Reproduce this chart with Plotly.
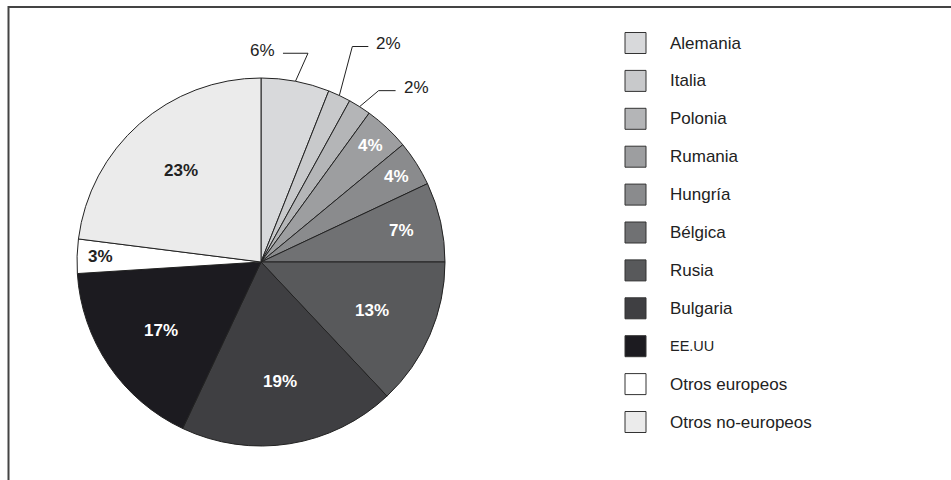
import math
import plotly.graph_objects as go

# Distribution by country of origin (percent)
paises = ["Alemania", "Italia", "Polonia", "Rumania", "Hungría", "Bélgica",
          "Rusia", "Bulgaria", "EE.UU", "Otros europeos", "Otros no-europeos"]
porcentajes = [6, 2, 2, 4, 4, 7, 13, 19, 17, 3, 23]

colores = ["#d8d9db", "#c8c9cb", "#b4b5b7", "#9d9ea0", "#8a8b8d", "#707173",
           "#58595b", "#3f3f42", "#1c1b20", "#ffffff", "#ebebeb"]

W, H = 951, 480
CX, CY, R = 261, 262, 184          # pie centre and radius in pixels
FONT = "Liberation Sans, Arial, sans-serif"


def px(x):
    return x / W


def py(y):
    return 1 - y / H


fig = go.Figure()
fig.add_trace(go.Pie(
    labels=paises,
    values=porcentajes,
    sort=False,
    direction="clockwise",
    rotation=0,
    marker=dict(colors=colores, line=dict(color="#222222", width=1)),
    textinfo="none",
    hoverinfo="label+percent",
    showlegend=False,
    domain=dict(x=[px(CX - R), px(CX + R)], y=[py(CY + R), py(CY - R)]),
))

total = sum(porcentajes)
annotations = []
shapes = []

# slices too thin for an inside label get a leader line: (dx, dy) to the elbow, horizontal run
leader = {"Alemania": (12.5, -28, -25), "Italia": (13, -49, 16), "Polonia": (19, -16, 17)}

acum = 0
for nombre, v, c in zip(paises, porcentajes, colores):
    mid = (acum + v / 2) / total * 2 * math.pi
    acum += v
    s, co = math.sin(mid), math.cos(mid)
    texto = f"{v}%"
    if nombre in leader:
        dx, dy, run = leader[nombre]
        ex, ey = CX + R * s, CY - R * co
        bx, by = ex + dx, ey + dy
        tx = bx + run
        shapes.append(dict(
            type="path", xref="paper", yref="paper",
            path=f"M {px(ex)} {py(ey)} L {px(bx)} {py(by)} L {px(tx)} {py(by)}",
            line=dict(color="#222222", width=1)))
        annotations.append(dict(
            x=px(tx + (6 if run > 0 else -6)), y=py(by - 3), xref="paper", yref="paper",
            text=texto, showarrow=False,
            xanchor="left" if run > 0 else "right", yanchor="middle",
            font=dict(family=FONT, size=17, color="#222222")))
    else:
        frac = 0.66 if v >= 10 else (0.78 if v >= 5 else 0.87)
        lx, ly = CX + frac * R * s, CY - frac * R * co
        oscuro = c in ("#ffffff", "#ebebeb")
        annotations.append(dict(
            x=px(lx), y=py(ly), xref="paper", yref="paper",
            text=f"<b>{texto}</b>", showarrow=False,
            xanchor="center", yanchor="middle",
            font=dict(family=FONT, size=17,
                      color="#222222" if oscuro else "#ffffff")))

# hand-drawn legend with large swatches
LX, LY0, STEP, SW = 625, 43, 37.9, 21
for i, (nombre, c) in enumerate(zip(paises, colores)):
    yc = LY0 + i * STEP
    shapes.append(dict(
        type="rect", xref="paper", yref="paper",
        x0=px(LX), x1=px(LX + SW), y0=py(yc - SW / 2), y1=py(yc + SW / 2),
        fillcolor=c, line=dict(color="#333333", width=1)))
    annotations.append(dict(
        x=px(668), y=py(yc), xref="paper", yref="paper",
        text=nombre, showarrow=False, xanchor="left", yanchor="middle",
        font=dict(family=FONT, size=14.5 if nombre == "EE.UU" else 17,
                  color="#222222")))

# frame: top and left rules only
shapes.append(dict(type="line", xref="paper", yref="paper",
                   x0=px(8), x1=1, y0=py(7), y1=py(7),
                   line=dict(color="#444444", width=2)))
shapes.append(dict(type="line", xref="paper", yref="paper",
                   x0=px(8.5), x1=px(8.5), y0=py(6), y1=0,
                   line=dict(color="#444444", width=2)))

fig.update_layout(
    width=W, height=H,
    margin=dict(l=0, r=0, t=0, b=0),
    paper_bgcolor="white", plot_bgcolor="white",
    annotations=annotations,
    shapes=shapes,
    font=dict(family=FONT),
)

fig.write_html("out.html")
